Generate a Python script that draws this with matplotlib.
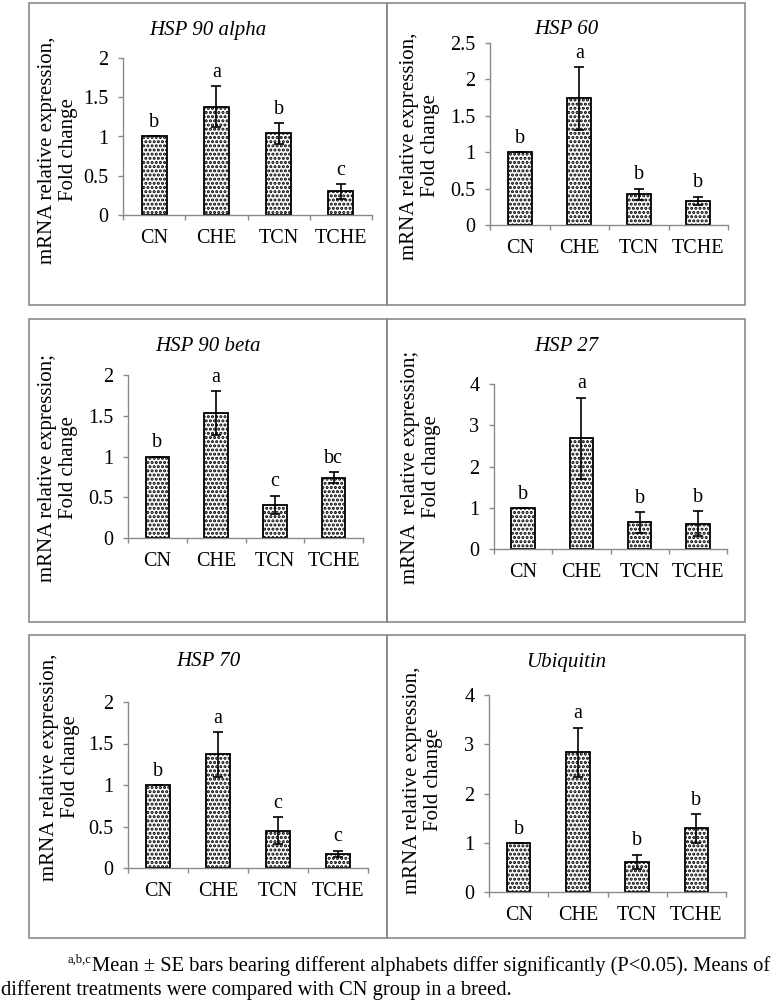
import matplotlib
matplotlib.use('Agg')
import matplotlib.pyplot as plt
from matplotlib.patches import Rectangle
from matplotlib.ticker import FuncFormatter

plt.rcParams['font.family'] = ['Liberation Serif', 'DejaVu Serif']
plt.rcParams['hatch.linewidth'] = 1.5

groups = ['CN', 'CHE', 'TCN', 'TCHE']

# gene panels
hsp90a_mean = [1.00, 1.38, 1.04, 0.30]
hsp90a_se = [0.0, 0.26, 0.13, 0.09]
hsp90a_letters = ['b', 'a', 'b', 'c']

hsp60_mean = [1.00, 1.74, 0.42, 0.33]
hsp60_se = [0.0, 0.43, 0.08, 0.06]
hsp60_letters = ['b', 'a', 'b', 'b']

hsp90b_mean = [1.00, 1.53, 0.41, 0.74]
hsp90b_se = [0.0, 0.27, 0.11, 0.07]
hsp90b_letters = ['b', 'a', 'c', 'bc']

hsp27_mean = [1.00, 2.68, 0.65, 0.61]
hsp27_se = [0.0, 0.99, 0.25, 0.30]
hsp27_letters = ['b', 'a', 'b', 'b']

hsp70_mean = [1.00, 1.37, 0.45, 0.17]
hsp70_se = [0.0, 0.27, 0.16, 0.04]
hsp70_letters = ['b', 'a', 'c', 'c']

ubq_mean = [1.00, 2.84, 0.61, 1.29]
ubq_se = [0.0, 0.50, 0.15, 0.30]
ubq_letters = ['b', 'a', 'b', 'b']

W, H = 780, 1005
GRAY = '#8a8a8a'

# (title, mean, se, letters, ymax, ystep, ylabel, axes box px, box px, ylabel pos px)
panels = [
    ('HSP 90 alpha', hsp90a_mean, hsp90a_se, hsp90a_letters, 2, 0.5,
     'mRNA relative expression,\nFold change',
     (123, 58, 372, 215), (29, 3, 387, 305), (58, 150)),
    ('HSP 60', hsp60_mean, hsp60_se, hsp60_letters, 2.5, 0.5,
     'mRNA relative expression,\nFold change',
     (490, 43, 728, 225), (387, 3, 745, 305), (420, 146)),
    ('HSP 90 beta', hsp90b_mean, hsp90b_se, hsp90b_letters, 2, 0.5,
     'mRNA relative expression;\nFold change',
     (128, 375, 363, 538), (29, 319, 387, 622), (58, 468)),
    ('HSP 27', hsp27_mean, hsp27_se, hsp27_letters, 4, 1,
     'mRNA  relative expression;\nFold change',
     (494, 384, 727, 549), (387, 319, 745, 622), (421, 467)),
    ('HSP 70', hsp70_mean, hsp70_se, hsp70_letters, 2, 0.5,
     'mRNA relative expression,\nFold change',
     (128, 702, 368, 868), (29, 635, 387, 938), (60, 767)),
    ('Ubiquitin', ubq_mean, ubq_se, ubq_letters, 4, 1,
     'mRNA relative expression,\nFold change',
     (489, 695, 726, 892), (387, 635, 745, 938), (423, 780)),
]

fig = plt.figure(figsize=(W / 100, H / 100), dpi=100)

for title, mean, se, letters, ymax, ystep, ylab, axbox, box, labpos in panels:
    x0, y0, x1, y1 = axbox
    ax = fig.add_axes([x0 / W, 1 - y1 / H, (x1 - x0) / W, (y1 - y0) / H])
    xs = list(range(len(groups)))
    ax.bar(xs, mean, width=0.4, color='white', edgecolor='black',
           hatch='....', linewidth=1.3, zorder=2)
    ax.errorbar(xs, mean, yerr=se, fmt='none', ecolor='black',
                elinewidth=1.2, capsize=3.5, capthick=1.2, zorder=3)
    for i in xs:
        ax.annotate(letters[i], (i, mean[i] + se[i]), xytext=(0, 3),
                    textcoords='offset points', ha='center', va='bottom',
                    fontsize=14.5)

    ax.set_xlim(-0.5, len(groups) - 0.5)
    ax.set_ylim(0, ymax)
    n = int(round(ymax / ystep))
    ax.set_yticks([k * ystep for k in range(n + 1)])
    ax.yaxis.set_major_formatter(FuncFormatter(lambda v, p: '%g' % v))
    ax.set_xticks([k - 0.5 for k in range(len(groups) + 1)])
    ax.set_xticklabels([])
    ax.set_xticks(xs, minor=True)
    ax.set_xticklabels(groups, minor=True)
    ax.tick_params(axis='x', which='major', length=3.6, width=1, color=GRAY)
    ax.tick_params(axis='x', which='minor', length=0, pad=10, labelsize=14.5)
    ax.tick_params(axis='y', length=3.6, width=1, color=GRAY, pad=7,
                   labelsize=14.5)
    for s in ('top', 'right'):
        ax.spines[s].set_visible(False)
    for s in ('left', 'bottom'):
        ax.spines[s].set_color(GRAY)
        ax.spines[s].set_linewidth(1)
    ax.set_facecolor('none')

    bx0, by0, bx1, by1 = box
    fig.add_artist(Rectangle((bx0 / W, 1 - by1 / H), (bx1 - bx0) / W,
                             (by1 - by0) / H, transform=fig.transFigure,
                             fill=False, edgecolor=GRAY, linewidth=1.2))
    fig.text((bx0 + bx1) / 2 / W, 1 - (by0 + 27) / H, title,
             ha='center', va='center', fontsize=15, style='italic')
    fig.text(labpos[0] / W, 1 - labpos[1] / H, ylab, rotation=90,
             ha='center', va='center', multialignment='center', fontsize=15)

fig.text(91 / W, 1 - 963 / H, 'a,b,c', ha='right', va='baseline', fontsize=9)
fig.text(92 / W, 1 - 971 / H,
         'Mean \u00b1 SE bars bearing different alphabets differ significantly '
         '(P<0.05). Means of', ha='left', va='baseline', fontsize=14.8)
fig.text(1 / W, 1 - 995 / H,
         'different treatments were compared with CN group in a breed.',
         ha='left', va='baseline', fontsize=14.8)

fig.savefig('out.png', dpi=100)
